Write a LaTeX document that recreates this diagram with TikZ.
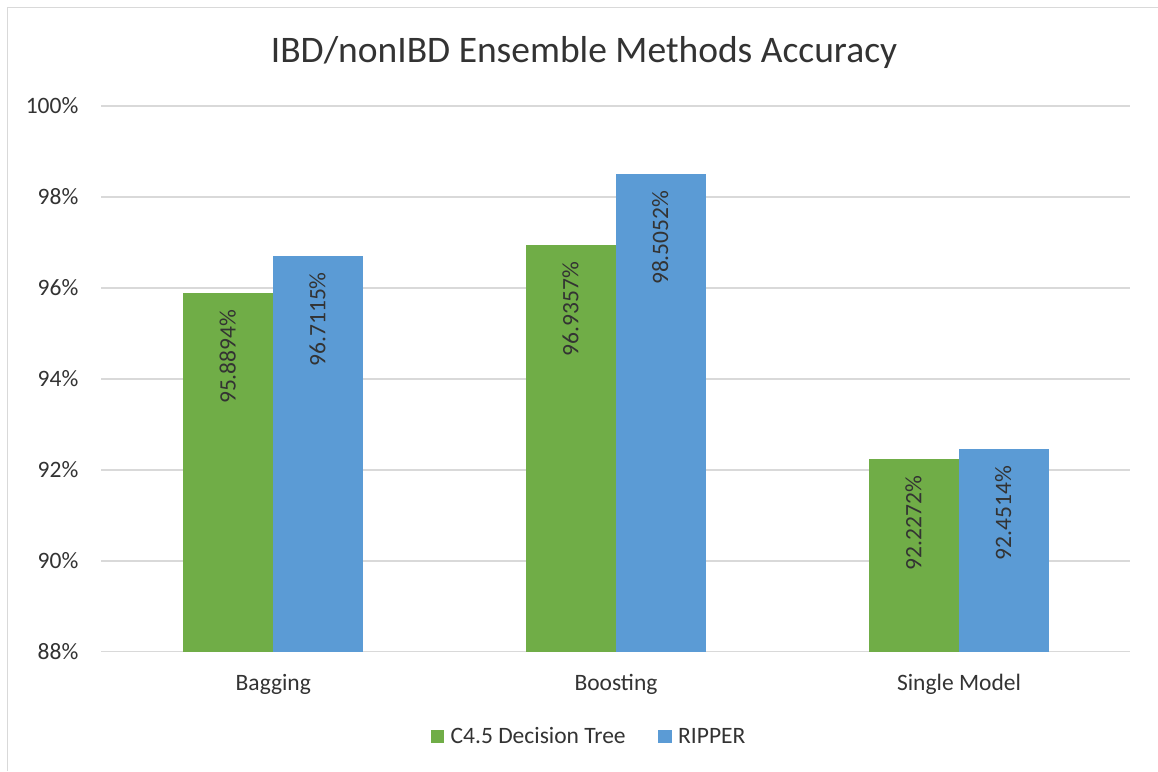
\documentclass[tikz,border=0pt]{standalone}
\usepackage{fontspec}
\setmainfont{Carlito}
\definecolor{grn}{HTML}{70AD47}
\definecolor{blu}{HTML}{5B9BD5}
\definecolor{gridc}{HTML}{D9D9D9}
\definecolor{txt}{HTML}{333333}
\begin{document}
\begin{tikzpicture}[x=1pt,y=-1pt,
  lbl/.style={inner sep=0pt,text=txt,font=\fontsize{23.5}{28}\selectfont},
  ttl/.style={inner sep=0pt,text=txt,font=\fontsize{37.5}{44}\selectfont},
  gridline/.style={draw=gridc,line width=1.5pt},
  vlab/.style={lbl,rotate=90,anchor=base east},
  legsq/.style={inner sep=0pt,minimum size=13.3pt,draw=none}
]
\useasboundingbox (0,0) rectangle (1158,771);
\fill[white] (0,0) rectangle (1158,771);
% chart frame (cropped at right and bottom)
\draw[gridc,line width=1.5pt] (7.5,771) -- (7.5,7.5) -- (1158,7.5);
% title
\node[ttl,anchor=base] (title) at (584,62.7) {IBD/nonIBD Ensemble Methods Accuracy};
% gridlines and y labels
\foreach \v/\t [count=\i] in {100/100\%,98/98\%,96/96\%,94/94\%,92/92\%,90/90\%,88/88\%}{
  \pgfmathsetmacro{\yy}{651.7-(\v-88)*45.475}
  \draw[gridline] (101,\yy) -- (1130,\yy);
  \node[lbl,anchor=base east] (ylab\i) at (78.5,\yy+7.4) {\t};
}
% bars
\foreach \cx/\vg/\vb/\sg/\sb/\nm in {273.3/95.8894/96.7115/95.8894\%/96.7115\%/bag,
                                     616/96.9357/98.5052/96.9357\%/98.5052\%/boo,
                                     959/92.2272/92.4514/92.2272\%/92.4514\%/sin}{
  \pgfmathsetmacro{\yg}{651.7-(\vg-88)*45.475}
  \pgfmathsetmacro{\yb}{651.7-(\vb-88)*45.475}
  \fill[grn] (\cx-90,651.7) rectangle (\cx,\yg);
  \fill[blu] (\cx,651.7) rectangle (\cx+89.5,\yb);
  \node[vlab] (dg\nm) at (\cx-45+7.4,\yg+16.5) {\sg};
  \node[vlab] (db\nm) at (\cx+44.7+7.4,\yb+16.5) {\sb};
}
% category labels
\node[lbl,anchor=base] (cat1) at (273.3,690.7) {Bagging};
\node[lbl,anchor=base] (cat2) at (616,690.7) {Boosting};
\node[lbl,anchor=base] (cat3) at (959,690.7) {Single Model};
% legend
\node[legsq,fill=grn] (lg1) at (437.7,736.7) {};
\node[lbl,anchor=base west] (lt1) at (450.5,743.3) {C4.5 Decision Tree};
\node[legsq,fill=blu] (lg2) at (665,736.7) {};
\node[lbl,anchor=base west] (lt2) at (678,743.3) {RIPPER};
\end{tikzpicture}
\end{document}
